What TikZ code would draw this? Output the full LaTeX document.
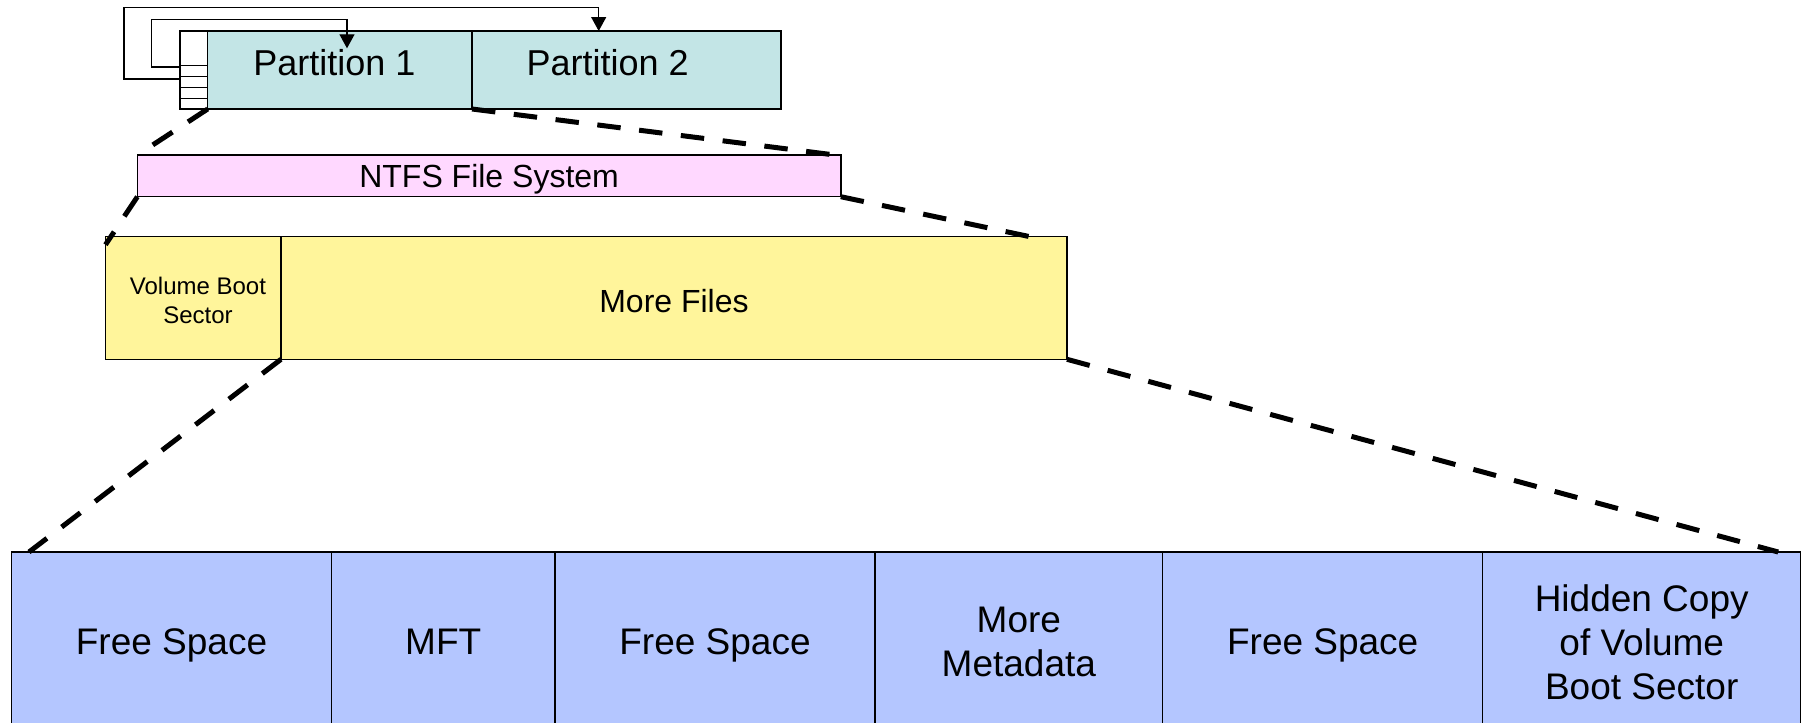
\documentclass[tikz,border=0pt]{standalone}
\usepackage{fontspec}
\setmainfont{Liberation Sans}
\usetikzlibrary{arrows.meta,calc}
\definecolor{partc}{HTML}{C3E5E6}
\definecolor{ntfsc}{HTML}{FFD8FF}
\definecolor{yelc}{HTML}{FFF59B}
\definecolor{bluec}{HTML}{B4C6FF}
\newcommand\fpart{\fontsize{36}{42}\selectfont}
\newcommand\fntfs{\fontsize{32}{38}\selectfont}
\newcommand\fvbs{\fontsize{24}{29}\selectfont}
\newcommand\fblue{\fontsize{37}{44}\selectfont}
\begin{document}
\begin{tikzpicture}[x=1pt,y=-1pt,
  box/.style={draw=black, line width=1.5pt, inner sep=0pt, outer sep=0pt, anchor=north west},
  bcell/.style={box, fill=bluec, minimum height=180pt, align=center, font=\fblue},
  zoomline/.style={line width=5pt, dash pattern=on 23.5pt off 18.6pt},
  link/.style={draw=black, line width=1.3pt, -{Triangle[length=14pt,width=15pt]}},
  thin/.style={draw=black, line width=1.3pt}]
\path[use as bounding box] (0,0) rectangle (1805,723);
\clip (0,0) rectangle (1805,723);

% partitions
\node[box, fill=white, minimum width=27.7pt, minimum height=78pt] (mbr) at (180,31) {};
\foreach \yy in {65.5,76.4,87.3,98.2}
  \draw[thin] (mbr.west |- 0,\yy) -- (mbr.east |- 0,\yy);
\node[box, fill=partc, minimum width=264.3pt, minimum height=78pt] (p1) at (207.7,31) {};
\node[box, fill=partc, minimum width=308.8pt, minimum height=78pt] (p2) at (472,31) {};
\node[font=\fpart, inner sep=0pt] (t1) at (334.5,62.5) {Partition 1};
\node[font=\fpart, inner sep=0pt] (t2) at (607.6,62.5) {Partition 2};

% NTFS
\node[box, fill=ntfsc, minimum width=703.4pt, minimum height=41.7pt, font=\fntfs, text depth=0pt] (ntfs) at (137.4,155) {NTFS File System};

% yellow
\node[box, fill=yelc, minimum width=175.5pt, minimum height=122.6pt] (vbs) at (105.5,236.7) {};
\node[font=\fvbs, align=center, inner sep=0pt] (vbst) at (198,300) {Volume Boot\\Sector};
\node[box, fill=yelc, minimum width=786pt, minimum height=122.6pt, font=\fntfs, text height=30pt] (more) at (281,236.7) {More Files};

% blue row
\node[bcell, minimum width=320pt, text depth=0pt] (b1) at (11.5,552) {Free Space};
\node[bcell, minimum width=223.5pt] (b2) at (331.5,552) {MFT};
\node[bcell, minimum width=320pt, text depth=0pt] (b3) at (555,552) {Free Space};
\node[bcell, minimum width=287.7pt] (b4) at (875,552) {More\\Metadata};
\node[bcell, minimum width=320pt, text depth=0pt] (b5) at (1162.7,552) {Free Space};
\node[bcell, minimum width=318pt] (b6) at (1482.7,552) {Hidden Copy\\of Volume\\Boot Sector};

% zoom lines
\draw[zoomline] (p1.south west) -- (ntfs.north west);
\draw[zoomline] (p1.south east) -- ($(ntfs.north east)+(-6,0)$);
\draw[zoomline] (ntfs.south west) -- ($(vbs.north west)+(0,8)$);
\draw[zoomline] (ntfs.south east) -- ($(more.north east)+(-37,0)$);
\draw[zoomline] (vbs.south east) -- ($(b1.north west)+(17.5,0)$);
\draw[zoomline] (more.south east) -- ($(b6.north east)+(-22.5,0)$);

% partition table arrows
\coordinate (in1) at (347,48.3);
\draw[link] (mbr.west |- 0,79) -| (124,7.3) -| ($(p2.north west)+(126.7,0)$);
\draw[link] (mbr.west |- 0,67) -| (151.7,19.3) -| (in1);
\end{tikzpicture}
\end{document}
